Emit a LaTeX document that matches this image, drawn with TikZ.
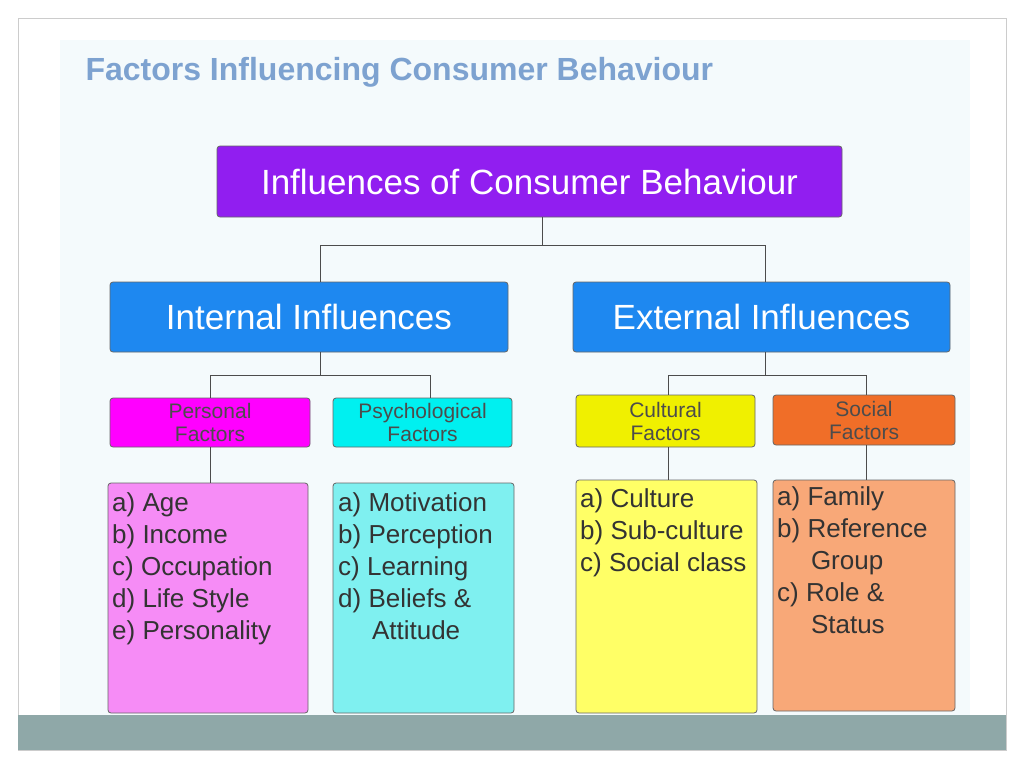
\documentclass[tikz,border=0pt]{standalone}
\usepackage{fontspec}
\setmainfont{Liberation Sans}
\begin{document}
\begin{tikzpicture}[x=1pt,y=-1pt,
  box/.style={draw=black!60,rounded corners=3pt,line width=0.8pt},
  lvl/.style={box,text=white,font=\fontsize{35}{38}\selectfont},
  fac/.style={box,font=\fontsize{21}{23}\selectfont,align=center,text=black!70},
  lst/.style={font=\fontsize{26}{32}\selectfont,align=left,text=black!80,anchor=north west,inner sep=0pt},
  conn/.style={draw=black!70,line width=1pt}]
\useasboundingbox (0,0) rectangle (1024,768);
\fill[white] (0,0) rectangle (1024,768);
\draw[black!20,fill=white] (18,18) rectangle (1006,750);
\fill[fill={rgb,255:red,244;green,250;blue,252}] (60,40) rectangle (970,715);
\fill[fill={rgb,255:red,143;green,168;blue,168}] (18,715) rectangle (1006,750);
\node[anchor=west,font=\bfseries\fontsize{32}{34}\selectfont,text={rgb,255:red,125;green,162;blue,208}] (title) at (82,72) {Factors Influencing Consumer Behaviour};
\node[lvl,fill={rgb,255:red,145;green,30;blue,240},minimum width=625,minimum height=71] (top) at (529.5,181.5) {Influences of Consumer Behaviour};
\node[lvl,fill={rgb,255:red,30;green,136;blue,240},minimum width=398,minimum height=70] (int) at (309,317) {Internal Influences};
\node[lvl,fill={rgb,255:red,30;green,136;blue,240},minimum width=377,minimum height=70] (ext) at (761.5,317) {External Influences};
\node[fac,fill={rgb,255:red,255;green,0;blue,255},minimum width=200,minimum height=49,inner sep=1pt] (per) at (210,422.5) {Personal\\Factors};
\node[fac,fill={rgb,255:red,0;green,240;blue,240},minimum width=179,minimum height=49,inner sep=1pt] (psy) at (422.5,422.5) {Psychological\\Factors};
\node[fac,fill={rgb,255:red,240;green,240;blue,0},minimum width=179,minimum height=52,inner sep=1pt] (cul) at (665.5,421) {Cultural\\Factors};
\node[fac,fill={rgb,255:red,240;green,110;blue,40},minimum width=182,minimum height=50,inner sep=1pt] (soc) at (864,420) {Social\\Factors};
\node[box,fill={rgb,255:red,246;green,140;blue,246},minimum width=200,minimum height=230] (perl) at (208,598) {};
\node[lst] at (112,492) {a) Age\\b) Income\\c) Occupation\\d) Life Style\\e) Personality};
\node[box,fill={rgb,255:red,127;green,240;blue,240},minimum width=181,minimum height=230] (psyl) at (423.5,598) {};
\node[lst] at (338,492) {a) Motivation\\b) Perception\\c) Learning\\d) Beliefs \&\\\hspace*{1.3em}Attitude};
\node[box,fill={rgb,255:red,255;green,255;blue,102},minimum width=181,minimum height=233] (cull) at (666.5,596.5) {};
\node[lst] at (580,488) {a) Culture\\b) Sub-culture\\c) Social class};
\node[box,fill={rgb,255:red,248;green,168;blue,120},minimum width=182,minimum height=231] (socl) at (864,595.5) {};
\node[lst] at (777,486) {a) Family\\b) Reference\\\hspace*{1.3em}Group\\c) Role \&\\\hspace*{1.3em}Status};
\coordinate (j1) at (542,245);
\path[conn] (top.south -| j1) -- (j1) (320,245) -- (765,245) (320,245) -- (int.north -| 320,0) (765,245) -- (ext.north -| 765,0);
\path[conn] (int.south -| 320,0) -- (320,375) (210,375) -- (430,375) (210,375) -- (per.north) (430,375) -- (psy.north -| 430,0);
\path[conn] (ext.south -| 765,0) -- (765,375) (668,375) -- (866,375) (668,375) -- (cul.north -| 668,0) (866,375) -- (soc.north -| 866,0);
\path[conn] (per.south) -- (perl.north -| per.south) (cul.south -| 668,0) -- (cull.north -| 668,0) (soc.south -| 866,0) -- (socl.north -| 866,0);
\end{tikzpicture}
\end{document}
